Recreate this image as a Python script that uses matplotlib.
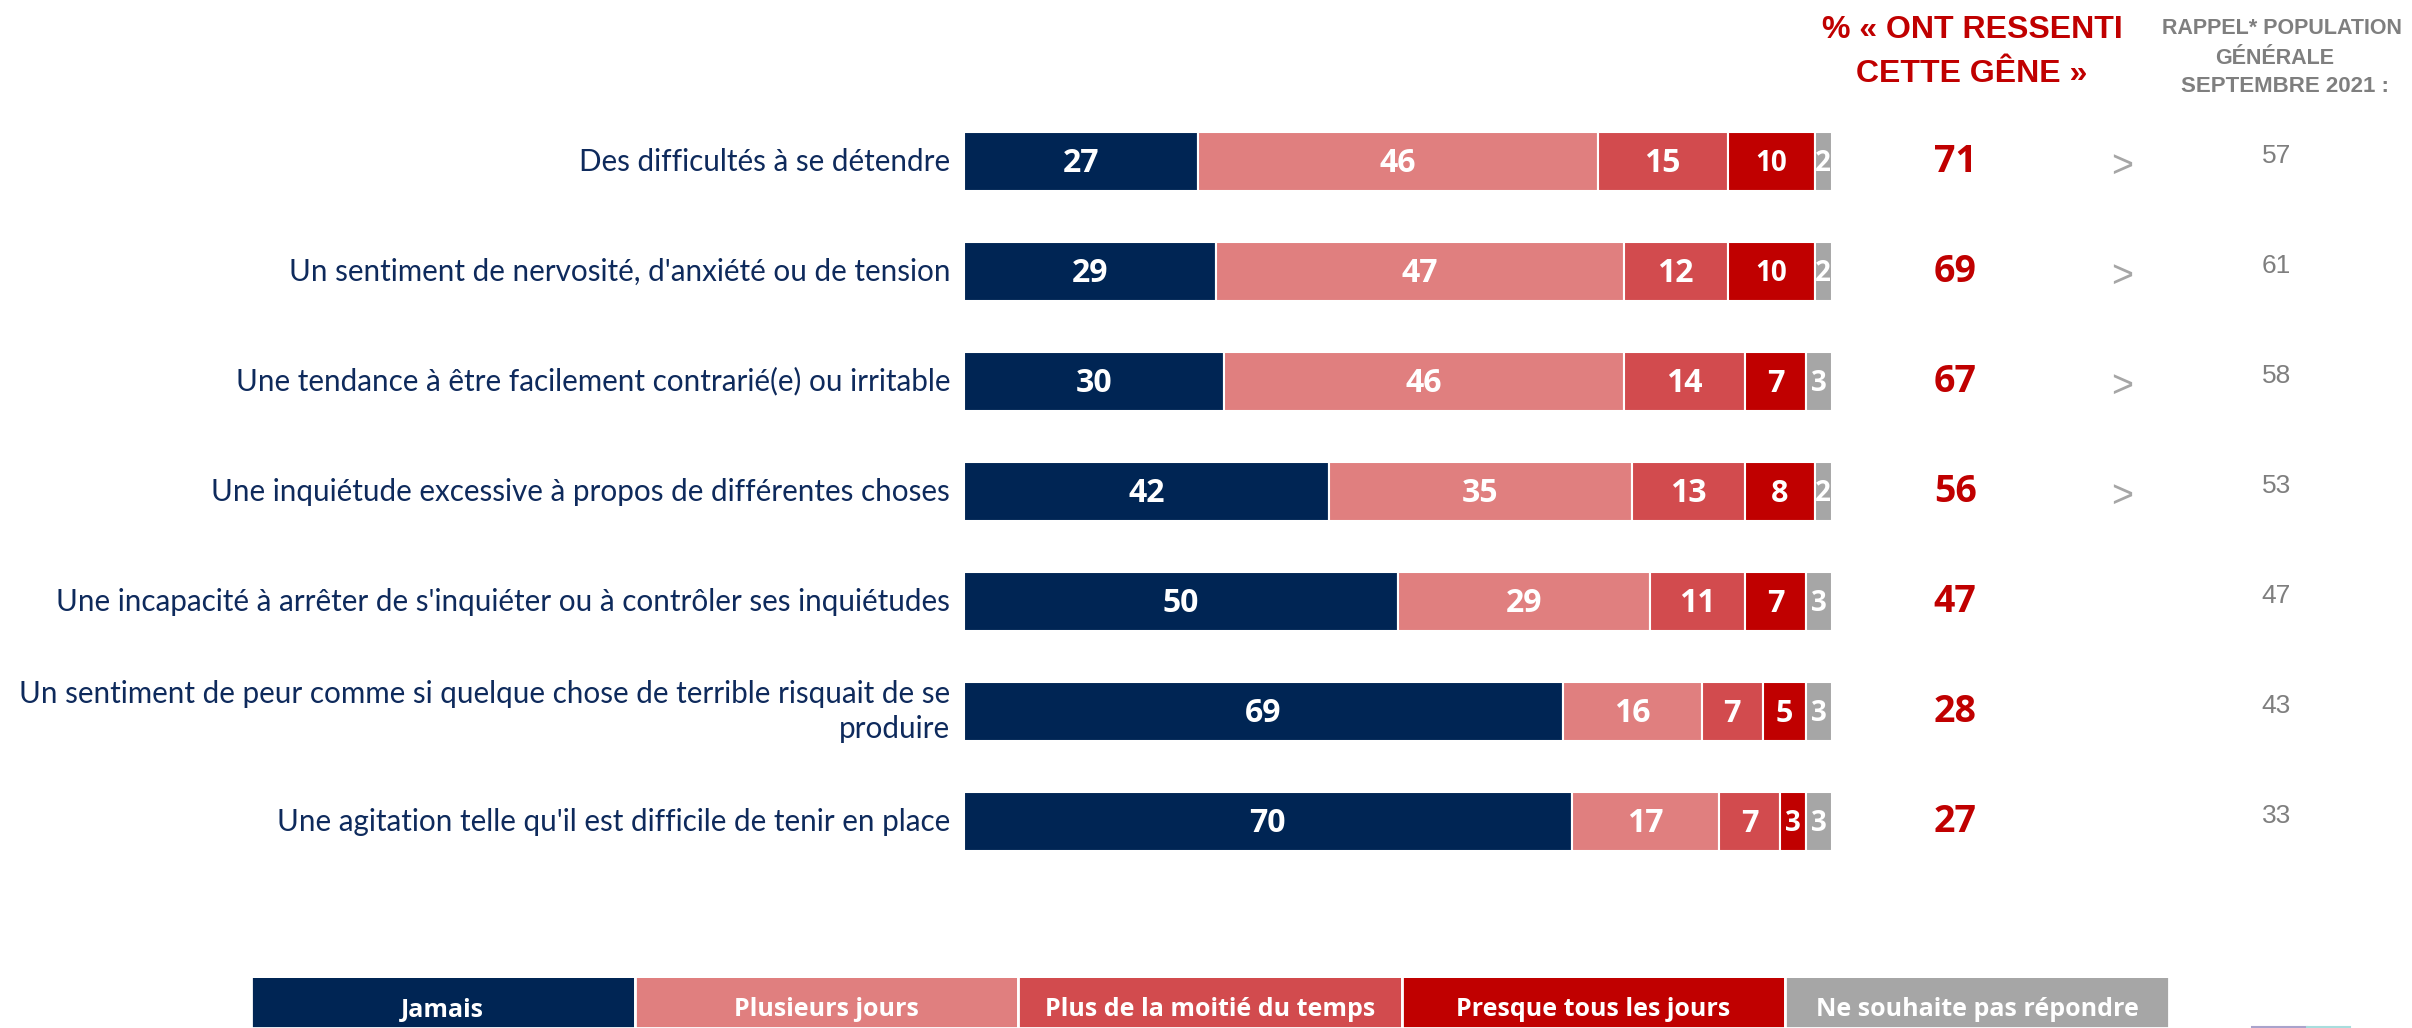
import matplotlib.pyplot as plt
import numpy as np

# data
items = [
    "Des difficultés à se détendre",
    "Un sentiment de nervosité, d'anxiété ou de tension",
    "Une tendance à être facilement contrarié(e) ou irritable",
    "Une inquiétude excessive à propos de différentes choses",
    "Une incapacité à arrêter de s'inquiéter ou à contrôler ses inquiétudes",
    "Un sentiment de peur comme si quelque chose de terrible risquait de se\nproduire",
    "Une agitation telle qu'il est difficile de tenir en place",
]
categories = ["Jamais", "Plusieurs jours", "Plus de la moitié du temps",
              "Presque tous les jours", "Ne souhaite pas répondre"]
jamais = [27, 29, 30, 42, 50, 69, 70]
plusieurs = [46, 47, 46, 35, 29, 16, 17]
moitie = [15, 12, 14, 13, 11, 7, 7]
presque = [10, 10, 7, 8, 7, 5, 3]
nsp = [2, 2, 3, 2, 3, 3, 3]
ressenti = [71, 69, 67, 56, 47, 28, 27]
signif = [">", ">", ">", ">", "", "", ""]
rappel_2021 = [57, 61, 58, 53, 47, 43, 33]

colors = ["#002554", "#E07F7F", "#D24B4E", "#C00000", "#A6A6A6"]
navy = "#0E2A5C"
red = "#C00000"
grey = "#7F7F7F"

W, H = 2412, 1028
fig = plt.figure(figsize=(W / 100, H / 100), dpi=100)
fig.patch.set_facecolor("white")

# main axes: bars 0..100 from x=964 to x=1832 px
ax = fig.add_axes([964 / W, 1 - 876.5 / H, 868 / W, 770 / H])
ax.set_xlim(0, 100)
ax.set_ylim(6.5, -0.5)
ax.axis("off")

y = np.arange(len(items))
series = [jamais, plusieurs, moitie, presque, nsp]
left = np.zeros(len(items))
for vals, col in zip(series, colors):
    vals = np.array(vals)
    ax.barh(y, vals, left=left, height=0.545, color=col,
            edgecolor="white", linewidth=1.5)
    for yi, l, v in zip(y, left, vals):
        fs = 23 if v >= 10 else 22
        if v <= 3:
            fs = 20
        if col == colors[3] and v >= 10:
            fs = 20
        ax.text(l + v / 2, yi + 0.02, str(v), ha="center", va="center",
                color="white", fontsize=fs, fontweight="bold",
                family="Open Sans", clip_on=False)
    left += vals

for yi, lab in zip(y, items):
    ax.text(-1.6, yi, lab, ha="right", va="center", color=navy,
            fontsize=21.3, family="Lato", multialignment="right",
            linespacing=1.3)

for yi, t, s, r in zip(y, ressenti, signif, rappel_2021):
    ax.text(114.2, yi, str(t), ha="center", va="center", color=red,
            fontsize=27, fontweight="bold", family="Open Sans")
    if s:
        ax.text(133.4, yi + 0.05, s, ha="center", va="center", color="#A6A6A6",
                fontsize=27, family="Liberation Sans")
    ax.text(151.2, yi - 0.05, str(r), ha="center", va="center", color=grey,
            fontsize=19, family="Liberation Sans")

# column headers
fig.text(1972 / W, 1 - 30 / H, "% « ONT RESSENTI", ha="center", va="center",
         color=red, fontsize=23, fontweight="bold", family="Liberation Sans")
fig.text(1972 / W, 1 - 74 / H, "CETTE GÊNE »", ha="center", va="center",
         color=red, fontsize=23, fontweight="bold", family="Liberation Sans")
fig.text(2282 / W, 1 - 28 / H, "RAPPEL* POPULATION", ha="center", va="center",
         color=grey, fontsize=15.5, fontweight="bold", family="Liberation Sans")
fig.text(2275 / W, 1 - 58 / H, "GÉNÉRALE", ha="center", va="center",
         color=grey, fontsize=15.5, fontweight="bold", family="Liberation Sans")
fig.text(2285 / W, 1 - 87 / H, "SEPTEMBRE 2021 :", ha="center", va="center",
         color=grey, fontsize=16, fontweight="bold", family="Liberation Sans")

# legend strip at the bottom
lax = fig.add_axes([251 / W, 0, (2169 - 251) / W, 50 / H])
lax.set_xlim(0, len(categories))
lax.set_ylim(0, 1)
lax.axis("off")
lax.bar(np.arange(len(categories)), 1.2, width=1, align="edge", color=colors,
        edgecolor="white", linewidth=2)
for i, c in enumerate(categories):
    lax.text(i + 0.5, 0.36, c, ha="center", va="center", color="white",
             fontsize=18, fontweight="bold", family="Open Sans")

# small cut-off line in the bottom right corner
fig.add_artist(plt.Line2D([2252 / W, 2307 / W], [1.5 / H, 1.5 / H],
                          color="#A9A3CC", lw=1.5))
fig.add_artist(plt.Line2D([2307 / W, 2350 / W], [1.5 / H, 1.5 / H],
                          color="#A8DDDD", lw=1.5))

fig.savefig("out.png", dpi=100)
